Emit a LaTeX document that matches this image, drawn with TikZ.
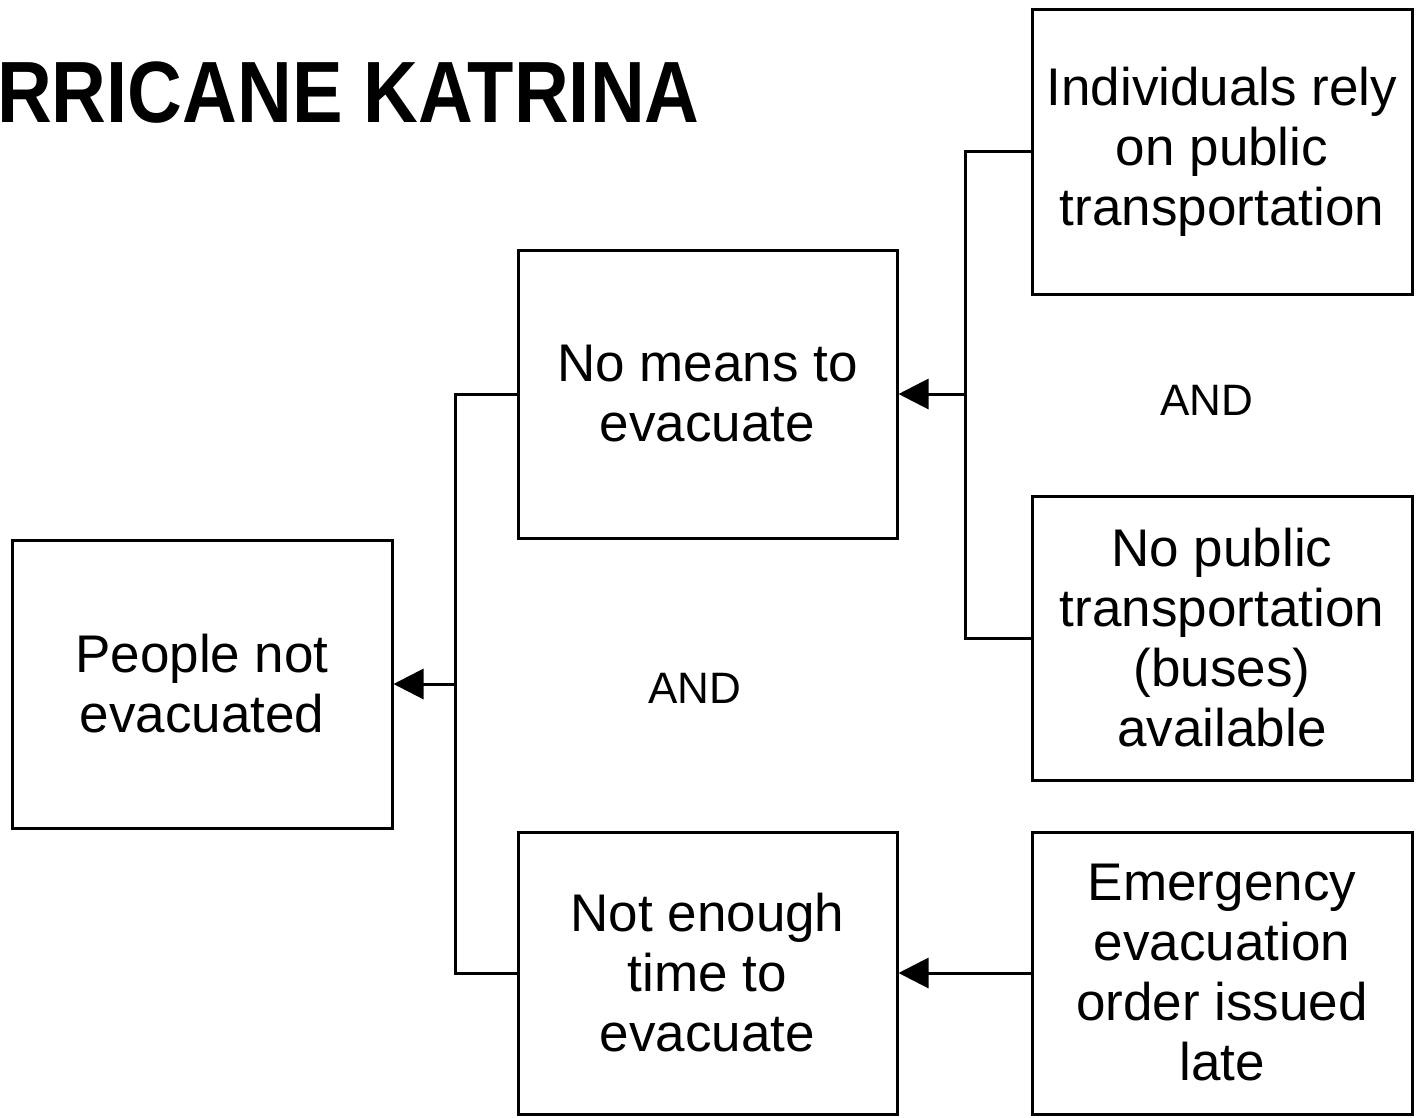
\documentclass[tikz,border=0pt]{standalone}
\usepackage{fontspec}
\usepackage{graphicx}
\setmainfont{Liberation Sans}
\usetikzlibrary{arrows.meta}

\tikzset{
  causebox/.style={draw, line width=3pt, rectangle, align=center, inner sep=0pt,
    font=\fontsize{53}{60}\selectfont},
  wire/.style={line width=3pt},
  feed/.style={wire, -{Triangle[length=30pt,width=30pt]}},
  gate/.style={font=\fontsize{44}{50}\selectfont},
}

\begin{document}
\begin{tikzpicture}[x=1pt, y=-1pt]
  \useasboundingbox[fill=white] (0,0) rectangle (1416,1117);

  % heading at the top-left edge
  \node[anchor=base west, inner sep=0pt] (title) at (-3,122)
    {\scalebox{0.872}[1]{\fontsize{87}{90}\selectfont\bfseries RRICANE KATRINA}};

  % boxes
  \node[causebox, minimum width=380pt, minimum height=288pt] (people) at (202,684)
    {People not\\evacuated};
  \node[causebox, minimum width=379pt, minimum height=288pt] (means) at (707.5,394)
    {No means to\\evacuate};
  \node[causebox, minimum width=379pt, minimum height=282pt] (time) at (707.5,973)
    {Not enough\\time to\\evacuate};
  \node[causebox, minimum width=380pt, minimum height=285pt] (rely) at (1222,151.5)
    {Individuals rely\\on public\\transportation};
  \node[causebox, minimum width=380pt, minimum height=284pt] (buses) at (1222,638)
    {No public\\transportation\\(buses)\\available};
  \node[causebox, minimum width=380pt, minimum height=282pt] (late) at (1222,973)
    {Emergency\\evacuation\\order issued\\late};

  % AND labels
  \node[gate] (and1) at (695,688) {AND};
  \node[gate] (and2) at (1207,400) {AND};

  % junctions
  \coordinate (lj) at (455,684);
  \coordinate (rj) at (965,394);

  % left tree
  \draw[wire] (means.west) -| (lj);
  \draw[wire] (time.west) -| (lj);
  \draw[feed] (lj) -- (people.east);

  % right tree
  \draw[wire] (rely.west) -| (rj);
  \draw[wire] (buses.west) -| (rj);
  \draw[feed] (rj) -- (means.east);

  % bottom link
  \draw[feed] (late.west) -- (time.east);
\end{tikzpicture}
\end{document}
